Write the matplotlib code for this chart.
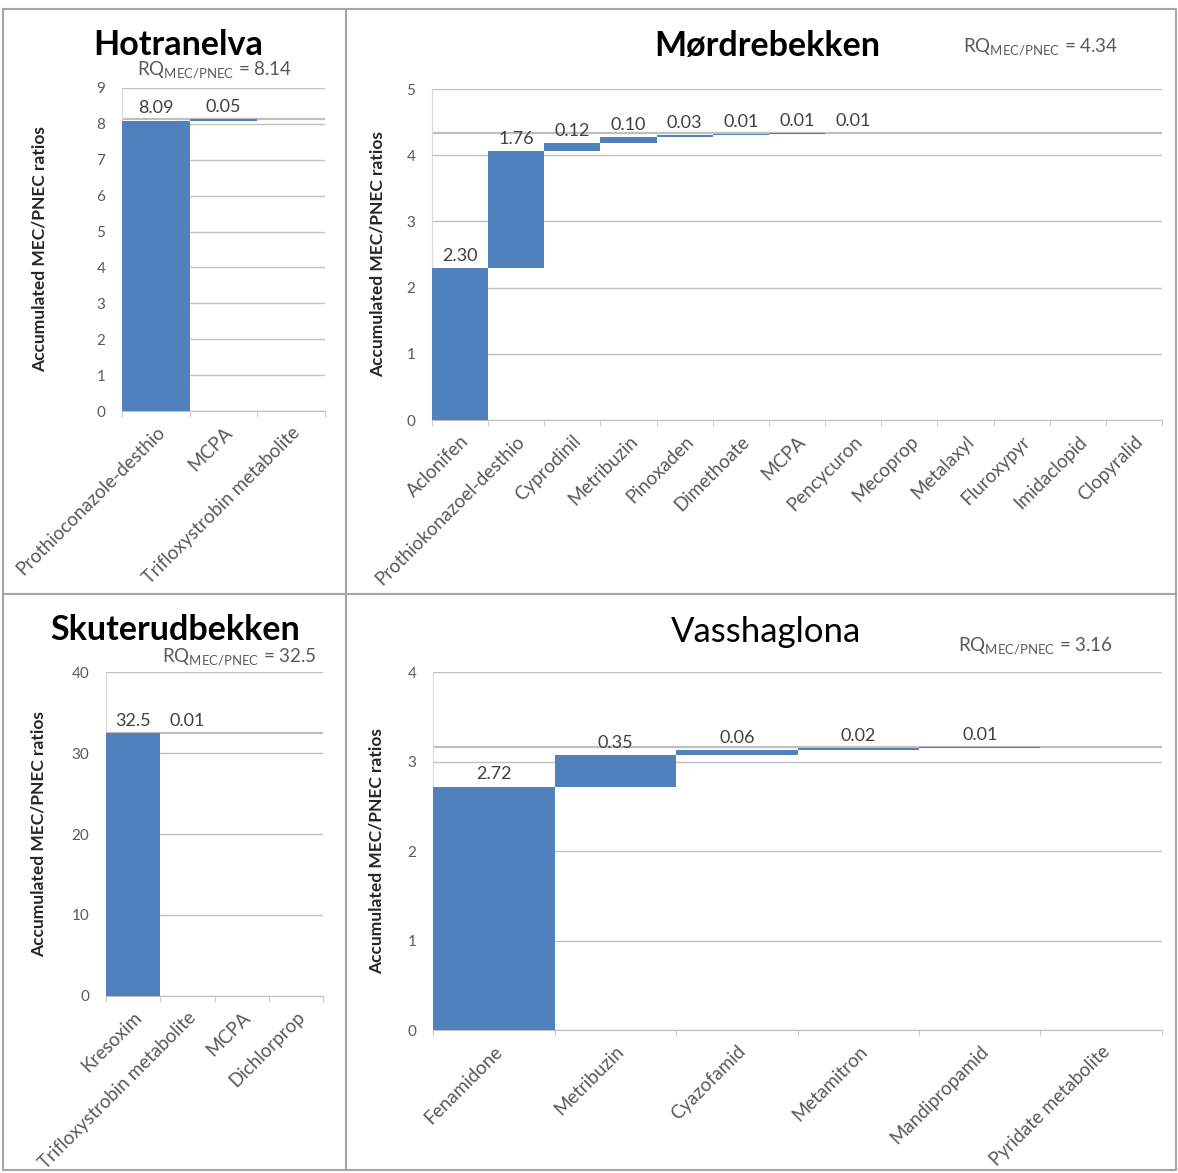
import matplotlib
matplotlib.use("Agg")
import matplotlib.pyplot as plt
from matplotlib.lines import Line2D
import numpy as np

plt.rcParams['font.family'] = ['Lato', 'DejaVu Sans']

# data (waterfall of MEC/PNEC ratios per site)
hot_names = ["Prothioconazole-desthio", "MCPA", "Trifloxystrobin metabolite"]
hot_values = [8.09, 0.05, 0.0]
hot_total = 8.14

mor_names = ["Aclonifen", "Prothiokonazoel-desthio", "Cyprodinil", "Metribuzin",
             "Pinoxaden", "Dimethoate", "MCPA", "Pencycuron", "Mecoprop",
             "Metalaxyl", "Fluroxypyr", "Imidaclopid", "Clopyralid"]
mor_values = [2.30, 1.76, 0.12, 0.10, 0.03, 0.01, 0.01, 0.01,
              0.0, 0.0, 0.0, 0.0, 0.0]
mor_total = 4.34

sku_names = ["Kresoxim", "Trifloxystrobin metabolite", "MCPA", "Dichlorprop"]
sku_values = [32.5, 0.01, 0.0, 0.0]
sku_total = 32.5

vas_names = ["Fenamidone", "Metribuzin", "Cyazofamid", "Metamitron",
             "Mandipropamid", "Pyridate metabolite"]
vas_values = [2.72, 0.35, 0.06, 0.02, 0.01, 0.0]
vas_total = 3.16

BLUE = '#4f81bd'
GREY = '#595959'
GRID = '#c0c0c0'


def waterfall(ax, names, values, total, ymax, ystep):
    values = np.array(values)
    tops = np.cumsum(values)
    bottoms = tops - values
    x = np.arange(len(names))
    ax.bar(x, values, bottom=bottoms, width=1.0, color=BLUE, zorder=3)
    for xi, top, v in zip(x, tops, values):
        if v < 0.005:
            continue
        txt = f"{v:.1f}" if v >= 10 else f"{v:.2f}"
        ax.annotate(txt, (xi, top), xytext=(0, 3), textcoords='offset points',
                    ha='center', va='bottom', fontsize=13, color='#404040', zorder=4)
    ax.axhline(total, color='#bfbfbf', lw=1.6, zorder=2)
    ax.set_xlim(-0.5, len(names) - 0.5)
    ax.set_ylim(0, ymax)
    ax.set_yticks(np.arange(0, ymax + ystep / 2, ystep))
    ax.yaxis.grid(True, color=GRID, lw=1.0, zorder=0)
    ax.set_axisbelow(True)
    for s in ['top', 'right']:
        ax.spines[s].set_visible(False)
    ax.spines['left'].set_color('#d9d9d9')
    ax.spines['bottom'].set_color('#bfbfbf')
    ax.tick_params(axis='y', length=0, labelsize=11, labelcolor=GREY, pad=12)
    ax.set_xticks(x)
    ax.set_xticks(np.arange(-0.5, len(names)), minor=True)
    ax.tick_params(axis='x', which='major', length=0, labelsize=13.5, labelcolor=GREY, pad=9)
    ax.tick_params(axis='x', which='minor', length=4, color='#bfbfbf')
    ax.set_xticklabels(names, rotation=45, ha='right', rotation_mode='anchor')
    ax.set_ylabel("Accumulated MEC/PNEC ratios", fontsize=12.5, fontweight='bold',
                  color='#262626')


fig = plt.figure(figsize=(11.78, 11.73), dpi=100)

ax1 = fig.add_axes([0.1036, 0.6496, 0.1723, 0.2754])
waterfall(ax1, hot_names, hot_values, hot_total, 9, 1)
ax1.yaxis.set_label_coords(-0.365, 0.5)
fig.text(0.151, 0.962, "Hotranelva", fontsize=24.5, fontweight='bold', ha='center', va='center')
fig.text(0.182, 0.940, r"RQ$_{\mathregular{MEC/PNEC}}$ = %.2f" % hot_total,
         fontsize=13.5, color=GREY, ha='center', va='center')

ax2 = fig.add_axes([0.3667, 0.6419, 0.6197, 0.2822])
waterfall(ax2, mor_names, mor_values, mor_total, 5, 1)
ax2.yaxis.set_label_coords(-0.064, 0.5)
fig.text(0.651, 0.961, "Mørdrebekken", fontsize=24.5, fontweight='bold', ha='center', va='center')
fig.text(0.883, 0.960, r"RQ$_{\mathregular{MEC/PNEC}}$ = %.2f" % mor_total,
         fontsize=13.5, color=GREY, ha='center', va='center')

ax3 = fig.add_axes([0.09, 0.1509, 0.1842, 0.2762])
waterfall(ax3, sku_names, sku_values, sku_total, 40, 10)
ax3.yaxis.set_label_coords(-0.272, 0.5)
fig.text(0.149, 0.463, "Skuterudbekken", fontsize=24.5, fontweight='bold', ha='center', va='center')
fig.text(0.203, 0.440, r"RQ$_{\mathregular{MEC/PNEC}}$ = %.1f" % sku_total,
         fontsize=13.5, color=GREY, ha='center', va='center')

ax4 = fig.add_axes([0.3676, 0.1219, 0.6188, 0.3052])
waterfall(ax4, vas_names, vas_values, vas_total, 4, 1)
ax4.yaxis.set_label_coords(-0.066, 0.5)
fig.text(0.650, 0.461, "Vasshaglona", fontsize=25, ha='center', va='center')
fig.text(0.879, 0.449, r"RQ$_{\mathregular{MEC/PNEC}}$ = %.2f" % vas_total,
         fontsize=13.5, color=GREY, ha='center', va='center')

# panel frame
frame = dict(color='#a6a6a6', lw=1.5, transform=fig.transFigure)
fig.add_artist(Line2D([0.0025, 0.998, 0.998, 0.0025, 0.0025],
                      [0.992, 0.992, 0.0026, 0.0026, 0.992], **frame))
fig.add_artist(Line2D([0.2937, 0.2937], [0.0026, 0.992], **frame))
fig.add_artist(Line2D([0.0025, 0.998], [0.4936, 0.4936], **frame))

fig.savefig("out.png", dpi=100, facecolor='white')
